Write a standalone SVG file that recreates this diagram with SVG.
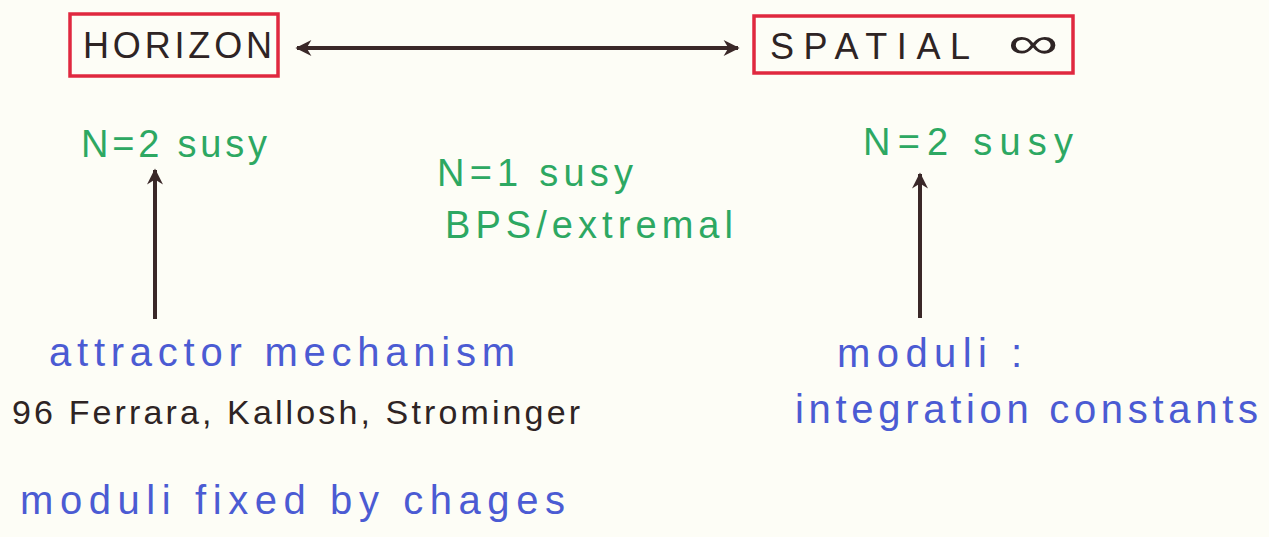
<svg xmlns="http://www.w3.org/2000/svg" width="1269" height="537" viewBox="0 0 1269 537">
  <defs>
    <style>
      .box { fill: none; stroke: #e0283f; stroke-width: 3.5; }
      .lbl { font-family: "Liberation Sans", Arial, sans-serif; fill: #2e2424; }
      .green { font-family: "Liberation Sans", Arial, sans-serif; fill: #2da862; }
      .blue { font-family: "Liberation Sans", Arial, sans-serif; fill: #4b5bd3; }
      .dark { font-family: "Liberation Sans", Arial, sans-serif; fill: #2e2424; }
      .conn { stroke: #3a2828; stroke-width: 4; fill: none; }
    </style>
    <marker id="ah" viewBox="0 0 10 10" refX="9" refY="5" markerWidth="20" markerHeight="16" markerUnits="userSpaceOnUse" orient="auto-start-reverse">
      <path d="M0,0 L10,5 L0,10 L3,5 z" fill="#3a2828"/>
    </marker>
  </defs>
  <rect x="0" y="0" width="1269" height="537" fill="#fdfdf6"/>

  <g id="connectors">
    <line class="conn" x1="297" y1="48" x2="738" y2="48" marker-start="url(#ah)" marker-end="url(#ah)"/>
    <line class="conn" x1="155" y1="319" x2="155" y2="170" marker-end="url(#ah)"/>
    <line class="conn" x1="920" y1="318" x2="920" y2="174" marker-end="url(#ah)"/>
  </g>

  <g id="horizon">
    <rect class="box" x="70" y="14" width="208" height="62"/>
    <text class="lbl" x="83" y="58" font-size="36" textLength="189" lengthAdjust="spacing">HORIZON</text>
  </g>

  <g id="spatial">
    <rect class="box" x="754" y="16" width="319" height="57"/>
    <text class="lbl" x="770" y="59" font-size="36" textLength="200" lengthAdjust="spacing">SPATIAL</text>
    <text class="lbl" x="1008" y="58" font-size="44" textLength="50" lengthAdjust="spacingAndGlyphs">∞</text>
  </g>

  <g id="horizon-susy">
    <text class="green" x="81" y="157" font-size="38" textLength="186" lengthAdjust="spacing">N=2 susy</text>
  </g>

  <g id="spatial-susy">
    <text class="green" x="863" y="155" font-size="38" textLength="210" lengthAdjust="spacing">N=2 susy</text>
  </g>

  <g id="center-susy">
    <text class="green" x="437" y="186" font-size="38" textLength="196" lengthAdjust="spacing">N=1 susy</text>
    <text class="green" x="445" y="238" font-size="38" textLength="288" lengthAdjust="spacing">BPS/extremal</text>
  </g>

  <g id="attractor">
    <text class="blue" x="49" y="366" font-size="40" textLength="466" lengthAdjust="spacing">attractor mechanism</text>
    <text class="dark" x="12" y="424" font-size="34" textLength="568" lengthAdjust="spacing">96 Ferrara, Kallosh, Strominger</text>
    <text class="blue" x="20" y="514" font-size="40" textLength="545" lengthAdjust="spacing">moduli fixed by chages</text>
  </g>

  <g id="moduli">
    <text class="blue" x="837" y="367" font-size="40" textLength="185" lengthAdjust="spacing">moduli :</text>
    <text class="blue" x="795" y="423" font-size="40" textLength="463" lengthAdjust="spacing">integration constants</text>
  </g>
</svg>
